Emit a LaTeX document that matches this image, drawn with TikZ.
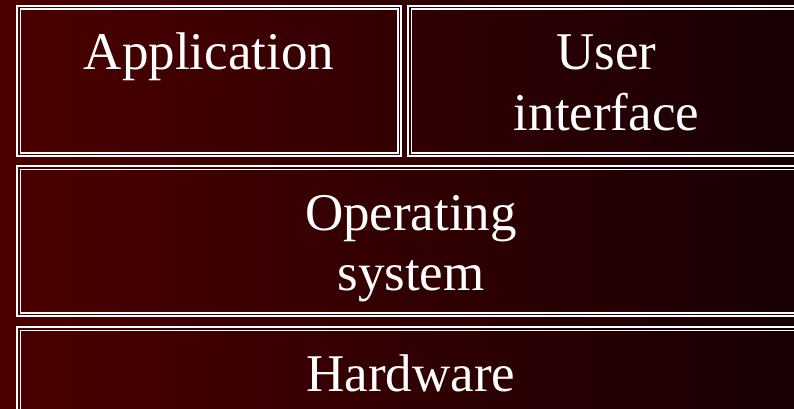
\documentclass[tikz,border=0pt]{standalone}
\usepackage{fontspec}
\setmainfont{Liberation Serif}
\definecolor{bgleft}{RGB}{76,0,0}
\definecolor{bgright}{RGB}{24,0,4}
\begin{document}
\begin{tikzpicture}[x=1pt,y=-1pt,
  layerbox/.style={draw=white, line width=2pt, rectangle, inner sep=0pt, outer sep=0pt},
  innerline/.style={draw=white, line width=1.4pt},
  layertext/.style={text=white, font=\fontsize{53}{60}\selectfont, align=center, anchor=base, inner sep=0pt}]
  \useasboundingbox (0,0) rectangle (794,409);
  \clip (0,0) rectangle (794,409);
  % background: dark red fading to black
  \shade[left color=bgleft, right color=bgright] (0,0) rectangle (794,409);

  % layer boxes (outer white frame)
  \node[layerbox, minimum width=384pt, minimum height=150pt] (app) at (209,81) {};
  \node[layerbox, minimum width=397pt, minimum height=150pt] (ui)  at (606.5,81) {};
  \node[layerbox, minimum width=788pt, minimum height=150pt] (os)  at (411,241) {};
  \node[layerbox, minimum width=788pt, minimum height=150pt] (hw)  at (411,402) {};

  % inner white frame of each box
  \foreach \b in {app,ui,os,hw}
    \draw[innerline] ([shift={(3.2,3.2)}]\b.north west) rectangle ([shift={(-3.2,-3.2)}]\b.south east);

  % labels (base anchor sits on the last line)
  \node[layertext] (appt) at (209,70) {Application};
  \node[layertext] (uit)  at (606.5,130) {User\\interface};
  \node[layertext] (ost)  at (411,290) {Operating\\system};
  \node[layertext] (hwt)  at (411,391) {Hardware};
\end{tikzpicture}
\end{document}
